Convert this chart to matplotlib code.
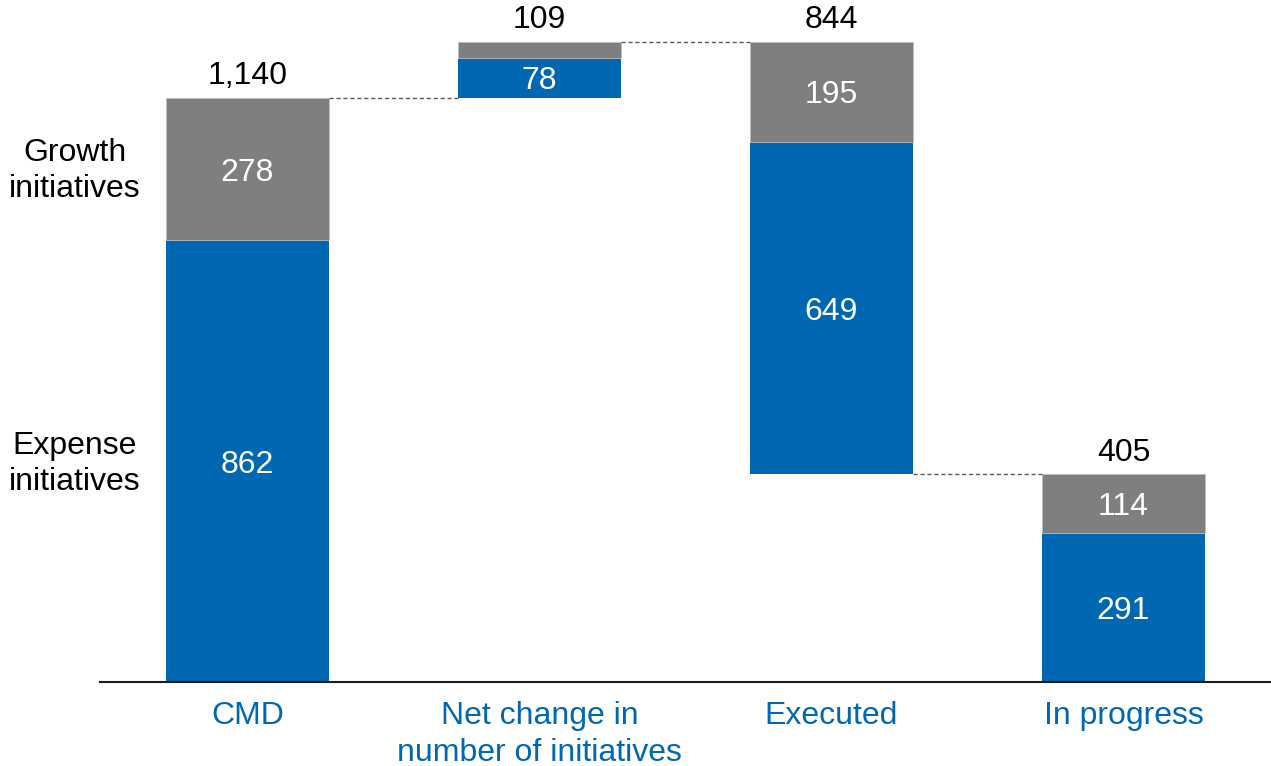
import matplotlib
matplotlib.use('Agg')
import matplotlib.pyplot as plt

plt.rcParams['font.family'] = ['Liberation Sans', 'DejaVu Sans']

# Waterfall of initiatives: expense (blue) and growth (gray) parts
categories = ['CMD', 'Net change in\nnumber of initiatives', 'Executed', 'In progress']
expense = [862, 78, 649, 291]
growth = [278, 31, 195, 114]
totals = [1140, 109, 844, 405]
bases = [0, 1140, 405, 0]
show_inner = [(True, True), (True, False), (True, True), (True, True)]

BLUE = '#0068B3'
GRAY = '#7F7F7F'
FS = 23

fig = plt.figure(figsize=(12.71, 7.66), dpi=100)
ax = fig.add_axes([0.0787, 0.1097, 0.9213, 0.8903])

x = list(range(len(categories)))
width = 0.558

ax.bar(x, expense, width, bottom=bases, color=BLUE, edgecolor='none')
growth_bottom = [b + e for b, e in zip(bases, expense)]
ax.bar(x, growth, width, bottom=growth_bottom, color=GRAY,
       edgecolor='#BFBFBF', linewidth=0.6)


def inner_label(xi, yi, val):
    ax.annotate(f'{val:,}', (xi, yi), xytext=(0, -2.5),
                textcoords='offset points', ha='center', va='center',
                color='white', fontsize=FS)


for i in x:
    if show_inner[i][0]:
        inner_label(i, bases[i] + expense[i] / 2, expense[i])
    if show_inner[i][1]:
        inner_label(i, growth_bottom[i] + growth[i] / 2, growth[i])
    top = growth_bottom[i] + growth[i]
    ax.annotate(f'{totals[i]:,}', (i, top), xytext=(0, 5),
                textcoords='offset points', ha='center', va='bottom',
                fontsize=FS, color='black')

# dashed connectors between consecutive bars
levels = [bases[0] + totals[0], bases[1] + expense[1] + growth[1], bases[2]]
for i, lvl in enumerate(levels):
    ax.plot([i + width / 2, i + 1 - width / 2], [lvl, lvl], ls=(0, (3, 2)),
            color='#595959', lw=1)

ax.set_xlim(-0.505, 3.505)
ax.set_ylim(0, 1331)
ax.set_xticks(x)
ax.set_xticklabels(categories, fontsize=FS, color=BLUE, linespacing=1.3)
ax.tick_params(axis='x', length=0, pad=13.5)
ax.set_yticks([])
for side in ['top', 'right', 'left']:
    ax.spines[side].set_visible(False)
ax.spines['bottom'].set_color('#1a1a1a')
ax.spines['bottom'].set_linewidth(1.5)

# legend-style labels at left
fig.text(75 / 1271, 1 - 171 / 766, 'Growth\ninitiatives', ha='center',
         va='center', fontsize=FS, linespacing=1.27)
fig.text(75 / 1271, 1 - 464 / 766, 'Expense\ninitiatives', ha='center',
         va='center', fontsize=FS, linespacing=1.27)

fig.savefig('out.png', dpi=100, facecolor='white')
